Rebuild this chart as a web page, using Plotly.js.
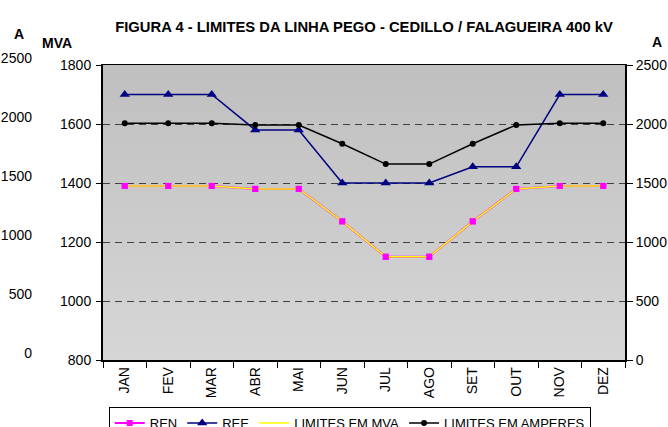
<!DOCTYPE html>
<html><head><meta charset="utf-8">
<script src="https://cdn.plot.ly/plotly-3.0.1.min.js"></script>
<style>html,body{margin:0;padding:0;background:#fff}#chart{width:668px;height:427px}</style>
</head><body><div id="chart"></div>
<script>
const months = ['JAN','FEV','MAR','ABR','MAI','JUN','JUL','AGO','SET','OUT','NOV','DEZ'];
const ren = [1390,1390,1390,1380,1380,1270,1150,1150,1270,1380,1390,1390];
const ree = [1700,1700,1700,1580,1580,1400,1400,1400,1455,1455,1700,1700];
const limitesMva = [1390,1390,1390,1380,1380,1270,1150,1150,1270,1380,1390,1390];
const limitesAmp = [2006,2006,2006,1992,1992,1833,1660,1660,1833,1992,2006,2006];
const mvaTicks = [800,1000,1200,1400,1600,1800];
const ampTicks = [0,500,1000,1500,2000,2500];

const FONT = 'Arial, "Liberation Sans", sans-serif';
const gradSvg = '<svg xmlns="http://www.w3.org/2000/svg" width="10" height="100" preserveAspectRatio="none"><defs><linearGradient id="g" x1="0" y1="0" x2="0" y2="1"><stop offset="0" stop-color="#bfbfbf"/><stop offset="1" stop-color="#d6d6d6"/></linearGradient></defs><rect width="10" height="100" fill="url(#g)"/></svg>';
const gradUri = 'data:image/svg+xml;base64,' + btoa(gradSvg);

const traces = [
  {x: months, y: ren, name: 'REN', mode: 'lines+markers', yaxis: 'y',
   line: {color: '#ff00ff', width: 2}, marker: {symbol: 'square', size: 6, color: '#ff00ff'}, legendgroup: 'ren'},
  {x: months, y: ree, name: 'REE', mode: 'lines+markers', yaxis: 'y',
   line: {color: '#000080', width: 1.5}, marker: {symbol: 'triangle-up', size: 9, color: '#000080'}},
  {x: months, y: limitesMva, name: 'LIMITES EM MVA', mode: 'lines', yaxis: 'y',
   line: {color: '#ffff00', width: 1.5}},
  {x: months, y: ren, name: 'REN', mode: 'markers', yaxis: 'y', showlegend: false, legendgroup: 'ren',
   marker: {symbol: 'square', size: 6, color: '#ff00ff'}, hoverinfo: 'skip'},
  {x: months, y: limitesAmp, name: 'LIMITES EM AMPERES', mode: 'lines+markers', yaxis: 'y2',
   line: {color: '#000000', width: 1.5}, marker: {symbol: 'circle', size: 6, color: '#000000'}},
  {x: [months[0]], y: [null], yaxis: 'y3', showlegend: false, hoverinfo: 'skip', mode: 'markers'}
];

const layout = {
  width: 668, height: 427,
  margin: {l: 103, r: 43, t: 65, b: 67, autoexpand: false},
  paper_bgcolor: '#ffffff', plot_bgcolor: 'rgba(0,0,0,0)',
  font: {family: FONT, size: 14, color: '#000'},
  title: {text: '<b>FIGURA 4 - LIMITES DA LINHA PEGO - CEDILLO / FALAGUEIRA 400 kV</b>',
          font: {family: FONT, size: 14.8, color: '#000'},
          x: 0.5, xref: 'paper', xanchor: 'center', y: 1 - 27/427, yref: 'container', yanchor: 'middle'},
  showlegend: true,
  legend: {orientation: 'h', x: 0.011, xanchor: 'left', y: -(407-360)/295, yanchor: 'top',
           bgcolor: '#ffffff', bordercolor: '#000', borderwidth: 1,
           font: {family: FONT, size: 13, color: '#000'}, traceorder: 'normal'},
  xaxis: {type: 'category', tickangle: -90, showgrid: false, showline: true, linecolor: '#000', linewidth: 1.5,
          mirror: true, ticks: 'outside', ticklen: 6, tickcolor: '#000', tickson: 'boundaries',
          tickfont: {family: FONT, size: 14, color: '#000'}, range: [-0.5, 11.5]},
  yaxis: {range: [800, 1800], tickvals: mvaTicks, showgrid: true, gridcolor: '#404040', gridwidth: 1,
          griddash: '7px,5px', showline: true, linecolor: '#000', linewidth: 2, ticks: 'outside',
          ticklen: 5, tickcolor: '#000', zeroline: false, ticklabelstandoff: 2,
          tickfont: {family: FONT, size: 14, color: '#000'}},
  yaxis2: {range: [0, 2500], tickvals: ampTicks, overlaying: 'y', side: 'right', showgrid: false,
           showline: true, linecolor: '#000', linewidth: 2, ticks: 'outside', ticklen: 6, tickcolor: '#000',
           zeroline: false, tickfont: {family: FONT, size: 14, color: '#000'}},
  yaxis3: {range: [0, 2500], tickvals: ampTicks, overlaying: 'y', side: 'left', anchor: 'free', position: 0,
           showgrid: false, showline: false, ticks: '', zeroline: false, ticklabelshift: -7,
           ticklabelstandoff: 71, tickfont: {family: FONT, size: 14, color: '#000'}},
  images: [{source: gradUri, xref: 'x domain', yref: 'y domain', x: 0, y: 1, sizex: 1, sizey: 1,
            sizing: 'stretch', xanchor: 'left', yanchor: 'top', layer: 'below'}],
  annotations: [
    {text: '<b>MVA</b>', xref: 'paper', yref: 'paper', x: (57-103)/522, y: (360-43)/295,
     xanchor: 'center', yanchor: 'middle', showarrow: false, font: {family: FONT, size: 14, color: '#000'}},
    {text: '<b>A</b>', xref: 'paper', yref: 'paper', x: (19-103)/522, y: (360-34)/295,
     xanchor: 'center', yanchor: 'middle', showarrow: false, font: {family: FONT, size: 14, color: '#000'}},
    {text: '<b>A</b>', xref: 'paper', yref: 'paper', x: (657-103)/522, y: (360-42)/295,
     xanchor: 'center', yanchor: 'middle', showarrow: false, font: {family: FONT, size: 14, color: '#000'}}
  ]
};

Plotly.newPlot('chart', traces, layout, {staticPlot: true, displayModeBar: false});
</script></body></html>
